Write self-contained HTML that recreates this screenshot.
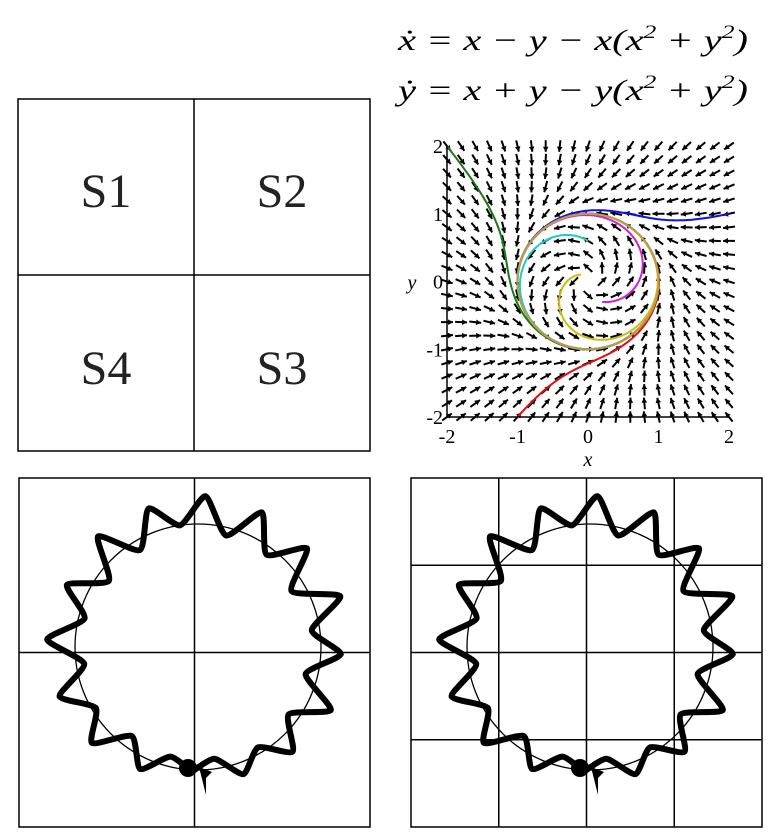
<!DOCTYPE html>
<html><head><meta charset="utf-8"><style>
html,body{margin:0;padding:0;background:#fff;}
svg{display:block;font-family:"Liberation Serif",serif;}
</style></head><body>
<svg id="fig" width="780" height="839" viewBox="0 0 780 839">
<g font-style="italic" font-size="30">
<text x="398" y="50" textLength="350" lengthAdjust="spacingAndGlyphs">ẋ = x − y − x(x<tspan font-size="19" dy="-12">2</tspan><tspan dy="12"> + y</tspan><tspan font-size="19" dy="-12">2</tspan><tspan dy="12">)</tspan></text>
<text x="398" y="100" textLength="350" lengthAdjust="spacingAndGlyphs">ẏ = x + y − y(x<tspan font-size="19" dy="-12">2</tspan><tspan dy="12"> + y</tspan><tspan font-size="19" dy="-12">2</tspan><tspan dy="12">)</tspan></text>
</g>
<g fill="none" stroke="#000" stroke-width="1.5">
<rect x="18" y="99" width="352" height="352"/>
<line x1="194" y1="99" x2="194" y2="451"/>
<line x1="18" y1="275" x2="370" y2="275"/>
</g>
<g font-size="48" text-anchor="middle" fill="#222">
<text x="106" y="207">S1</text>
<text x="282" y="207">S2</text>
<text x="106" y="384">S4</text>
<text x="282" y="384">S3</text>
</g>
<g id="phase"></g>
<g id="bl"></g>
<g id="br"></g>
</svg>
<script>
const NS="http://www.w3.org/2000/svg";
// phase portrait data
const xTicks=[-2,-1,0,1,2];
const yTicks=[-2,-1,0,1,2];
const trajStarts=[[-2,2],[2,1],[-1,-2],[0,0.6],[0.2,-0.3],[-0.1,0.1],[1,0]];
const trajColors=["#1a7a1a","#1010e0","#e01010","#20c8c8","#d020d0","#c8c010","#b8a040"];
const trajDurations=[8,8,8,8,8,8,7];
// wavy curve radius offsets (px) around the limit circle at equal angles, starting at bottom going clockwise on screen
const wiggle=[8,-4,18,-6,26,2,30,-2,34,0,28,-6,32,-4,30,6,34,-2,32,-2,30,-8,34,-2,26,-6,30,-4,24,0,18,-4];

function el(tag,attrs,parent){const e=document.createElementNS(NS,tag);for(const k in attrs)e.setAttribute(k,attrs[k]);parent.appendChild(e);return e;}
const ph=document.getElementById('phase');
const X0=447,X1=729,Y0=417,Y1=146;
const sx=v=>X0+(v+2)/4*(X1-X0);
const sy=v=>Y0-(v+2)/4*(Y0-Y1);
const f=(x,y)=>{const r2=x*x+y*y;return [x-y-x*r2,x+y-y*r2];};
// arrows
const ag=el('g',{stroke:'#000','stroke-width':2,fill:'#000'},ph);


for(let i=0;i<=20;i++)for(let j=0;j<=20;j++){
 const x=-2+i*0.2,y=-2+j*0.2;const [u,v]=f(x,y);const n=Math.hypot(u,v)||1;
 const dx=u/n*0.085*(X1-X0)/4,dy=-v/n*0.085*(Y0-Y1)/4;
 const cx=sx(x),cy=sy(y);
 const a=el('line',{x1:cx-dx,y1:cy-dy,x2:cx+dx,y2:cy+dy},ag);
 
 
 const L=Math.hypot(dx,dy),ux=dx/L,uy=dy/L,hx=cx+dx,hy=cy+dy;
 const h=el('polygon',{points:`${hx},${hy} ${hx-5*ux-2.8*uy},${hy-5*uy+2.8*ux} ${hx-5*ux+2.8*uy},${hy-5*uy-2.8*ux}`,stroke:'none'},ag);
 
 
}
// trajectories
trajStarts.forEach((s,k)=>{
 let x=s[0],y=s[1],d=`M${sx(x)},${sy(y)}`;const dt=0.01;
 for(let t=0;t<trajDurations[k];t+=dt){
  const [a1,b1]=f(x,y),[a2,b2]=f(x+a1*dt/2,y+b1*dt/2),[a3,b3]=f(x+a2*dt/2,y+b2*dt/2),[a4,b4]=f(x+a3*dt,y+b3*dt);
  x+=dt/6*(a1+2*a2+2*a3+a4);y+=dt/6*(b1+2*b2+2*b3+b4);
  d+=`L${sx(x).toFixed(1)},${sy(y).toFixed(1)}`;
 }
 const p=el('path',{d,fill:'none',stroke:trajColors[k],'stroke-width':2},ph);
 
 
});
// axes
const ax=el('g',{stroke:'#000','stroke-width':1.5},ph);


el('line',{x1:X0,y1:Y0,x2:X1,y2:Y0},ax);
el('line',{x1:X0,y1:Y0,x2:X0,y2:Y1},ax);
xTicks.forEach(v=>{
 const t=el('text',{x:sx(v),y:Y0+26,'text-anchor':'middle','font-size':20},ph);t.textContent=v;
 
 
});
yTicks.forEach(v=>{
 const t=el('text',{x:X0-4,y:sy(v)+7,'text-anchor':'end','font-size':20},ph);t.textContent=v;
 
 
});
const xl=el('text',{x:588,y:466,'text-anchor':'middle','font-size':20,'font-style':'italic'},ph);xl.textContent='x';


const yl=el('text',{x:412,y:289,'text-anchor':'middle','font-size':20,'font-style':'italic'},ph);yl.textContent='y';



// bottom panels
function panel(g,ox,n){
 const bx=19+ox,by=478,w=351,h=349;
 const fr=el('rect',{x:bx,y:by,width:w,height:h,fill:'none',stroke:'#000','stroke-width':1.5},g);
 
 
 for(let i=1;i<n;i++){
  const vx=bx+w*i/n,hy=by+h*i/n;
  const l1=el('line',{x1:vx,y1:by,x2:vx,y2:by+h,stroke:'#000','stroke-width':1.5},g);
  
  
  const l2=el('line',{x1:bx,y1:hy,x2:bx+w,y2:hy,stroke:'#000','stroke-width':1.5},g);
  
  
 }
 const cx=198+ox,cy=647,R=123;
 const c=el('circle',{cx,cy,r:R,fill:'none',stroke:'#000','stroke-width':1.3},g);
 
 
 const N=wiggle.length;let pts=[];
 for(let i=0;i<=N;i++){
  const th=Math.PI/2+i/N*2*Math.PI+0.05;
  const r=R+wiggle[i%N]-6;
  pts.push([cx+r*Math.cos(th),cy+r*Math.sin(th)]);
 }
 let d=`M${pts[0][0]},${pts[0][1]}`;
 for(let i=1;i<pts.length;i++){
  const p0=pts[Math.max(i-2,0)],p1=pts[i-1],p2=pts[i],p3=pts[Math.min(i+1,pts.length-1)];
  d+=`C${p1[0]+(p2[0]-p0[0])/10},${p1[1]+(p2[1]-p0[1])/10} ${p2[0]-(p3[0]-p1[0])/10},${p2[1]-(p3[1]-p1[1])/10} ${p2[0]},${p2[1]}`;
 }
 const wv=el('path',{d,fill:'none',stroke:'#000','stroke-width':6,'stroke-linejoin':'round'},g);
 
 
 const dot=el('circle',{cx:188+ox,cy:768,r:9,fill:'#000'},g);
 
 
 const ar=el('polygon',{points:`${199+ox},${767} ${212+ox},${772} ${206+ox},${778} ${206+ox},${795}`,fill:'#000'},g);
 
 
}
panel(document.getElementById('bl'),0,2);
panel(document.getElementById('br'),392,4);
</script>
</body></html>
